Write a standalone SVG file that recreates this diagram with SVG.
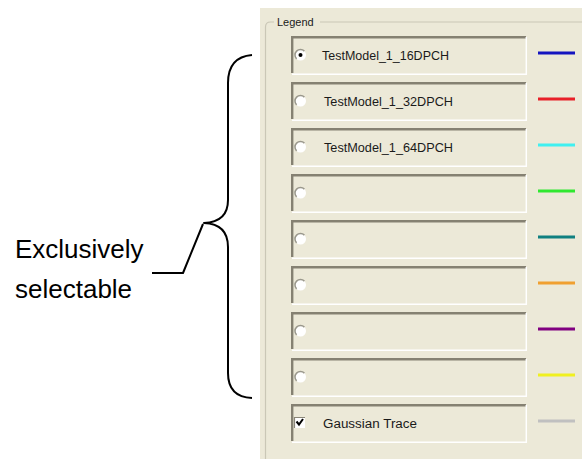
<svg xmlns="http://www.w3.org/2000/svg" xmlns:xlink="http://www.w3.org/1999/xlink" width="582" height="459" viewBox="0 0 582 459">
<style>
.lbl{font-family:"Liberation Sans",Arial,sans-serif;font-size:12.5px;fill:#1a1a1a}
.big{font-family:"Liberation Sans",Arial,sans-serif;font-size:26px;fill:#000}
.trace{stroke-width:3;fill:none}
.ink{fill:none;stroke:#000;stroke-width:2;stroke-linejoin:round}
</style>
<defs>
<g id="box">
<rect x="0" y="0" width="236" height="39" fill="#ECE9D8"/>
<path d="M0,1.2 H235" stroke="#858172" stroke-width="2.4" fill="none"/>
<path d="M1.2,0 V37" stroke="#858172" stroke-width="2.4" fill="none"/>
<path d="M1,38.3 H236" stroke="#ffffff" stroke-width="1.5" fill="none"/>
<path d="M235.3,1 V39" stroke="#ffffff" stroke-width="1.5" fill="none"/>
</g>
<g id="radio">
<circle cx="0" cy="0" r="5.5" fill="#ffffff"/>
<path d="M-3.9,3.9 A5.5,5.5 0 0 1 3.9,-3.9" stroke="#9a988c" stroke-width="1.5" fill="none"/>
</g>
</defs>

<rect x="0" y="0" width="582" height="459" fill="#ffffff"/>
<g id="panel">
<rect x="260" y="8" width="322" height="451" fill="#ECE9D8"/>
<path d="M265.5,459 V27 Q265.5,22 270.5,22 H274 M320,22 H582" stroke="#cac7b6" stroke-width="1.2" fill="none"/>
<text x="277" y="26" font-family="Liberation Sans,Arial,sans-serif" font-size="11" fill="#1a1a1a">Legend</text>
</g>

<g id="row1">
<use xlink:href="#box" x="291" y="36"/>
<use xlink:href="#radio" x="300.5" y="55"/>
<circle cx="300.5" cy="55" r="2" fill="#000"/>
<text class="lbl" x="322" y="60" textLength="127" lengthAdjust="spacingAndGlyphs">TestModel_1_16DPCH</text>
<path class="trace" d="M538,53 H575" stroke="#1414c0"/>
</g>
<g id="row2">
<use xlink:href="#box" x="291" y="82"/>
<use xlink:href="#radio" x="300.5" y="101"/>
<text class="lbl" x="324" y="106" textLength="129" lengthAdjust="spacingAndGlyphs">TestModel_1_32DPCH</text>
<path class="trace" d="M538,99 H575" stroke="#e82028"/>
</g>
<g id="row3">
<use xlink:href="#box" x="291" y="128"/>
<use xlink:href="#radio" x="300.5" y="147"/>
<text class="lbl" x="324" y="152" textLength="129" lengthAdjust="spacingAndGlyphs">TestModel_1_64DPCH</text>
<path class="trace" d="M538,145 H575" stroke="#40f0f0"/>
</g>
<g id="row4">
<use xlink:href="#box" x="291" y="174"/>
<use xlink:href="#radio" x="300.5" y="193"/>
<path class="trace" d="M538,191 H575" stroke="#30e830"/>
</g>
<g id="row5">
<use xlink:href="#box" x="291" y="220"/>
<use xlink:href="#radio" x="300.5" y="239"/>
<path class="trace" d="M538,237 H575" stroke="#108080"/>
</g>
<g id="row6">
<use xlink:href="#box" x="291" y="266"/>
<use xlink:href="#radio" x="300.5" y="285"/>
<path class="trace" d="M538,283 H575" stroke="#f0a030"/>
</g>
<g id="row7">
<use xlink:href="#box" x="291" y="312"/>
<use xlink:href="#radio" x="300.5" y="331"/>
<path class="trace" d="M538,329 H575" stroke="#800080"/>
</g>
<g id="row8">
<use xlink:href="#box" x="291" y="358"/>
<use xlink:href="#radio" x="300.5" y="377"/>
<path class="trace" d="M538,375 H575" stroke="#f0f020"/>
</g>
<g id="row9">
<use xlink:href="#box" x="291" y="404"/>
<rect x="294" y="417" width="11" height="11" fill="#ffffff"/>
<path d="M294.5,428 V417.5 H305" stroke="#8a8678" stroke-width="1.2" fill="none"/>
<path d="M296.5,421.5 L299,424.5 L303,419" stroke="#000" stroke-width="2" fill="none"/>
<text class="lbl" x="323" y="428" textLength="94" lengthAdjust="spacingAndGlyphs">Gaussian Trace</text>
<path class="trace" d="M538,421 H575" stroke="#c0c0c0"/>
</g>

<g id="brace">
<path class="ink" d="M252,55 Q228,57 228,83 V200 Q228,222 204,223 Q228,224 228,247 V373 Q228,397 252,398"/>
</g>
<g id="label">
<text class="big" x="15" y="257.5">Exclusively</text>
<text class="big" x="15" y="297.5">selectable</text>
</g>
<g id="connectors">
<path class="ink" d="M203,224 L183,273 H152"/>
</g>
</svg>
